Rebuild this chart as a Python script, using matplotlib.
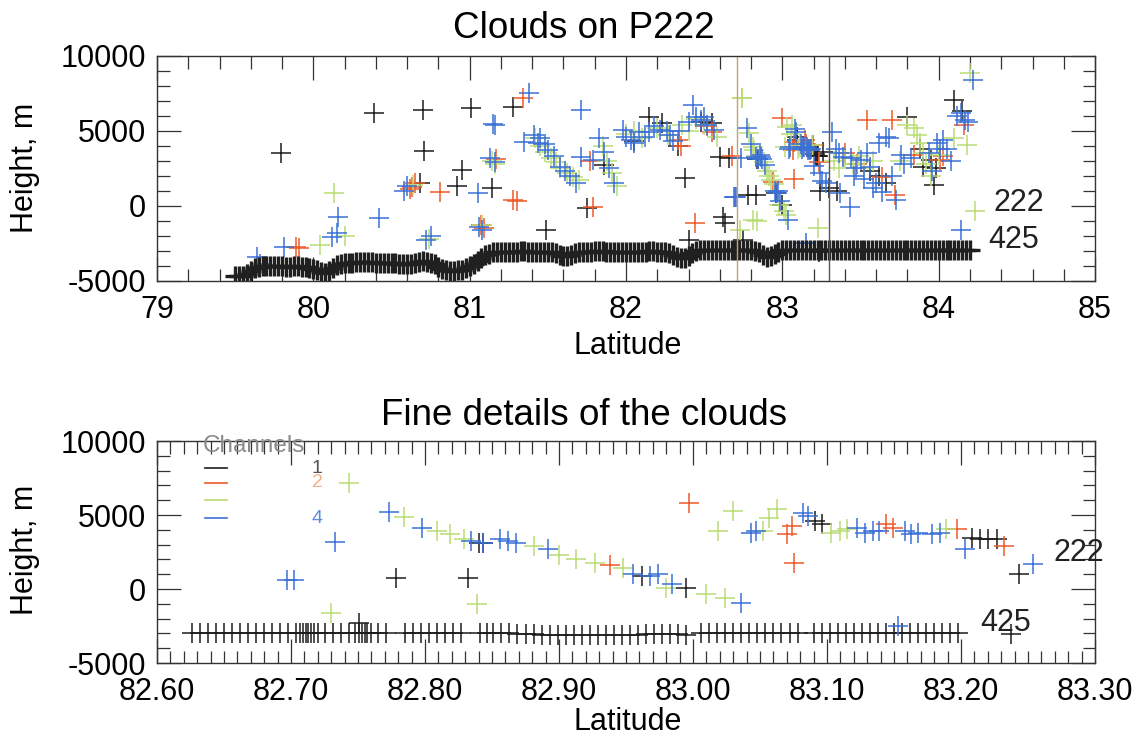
import matplotlib
matplotlib.use("Agg")
import matplotlib.pyplot as plt
from matplotlib.ticker import MultipleLocator, FormatStrFormatter

plt.rcParams['font.family'] = ['Liberation Sans', 'DejaVu Sans']
plt.rcParams['axes.unicode_minus'] = False

# ---- colours of the four channels
c1 = '#1c1c1c'
c2 = '#ee5a2a'
c3 = '#b9dc74'
c4 = '#3b70d6'

# ---- channel 1, wide track (latitude, height in m)
lat1 = [79.79, 80.39, 80.70, 81.01, 80.71, 80.95, 80.92, 81.14, 80.68, 81.28,
        81.75, 81.49, 82.15, 82.38, 82.40, 82.60, 82.66, 82.62, 82.63, 82.33,
        83.26, 83.30, 83.35, 83.80, 84.10, 83.95, 83.97, 83.62, 83.66, 82.48,
        81.86, 83.88, 83.90, 82.23, 82.05, 83.98, 83.56, 84.15, 82.55]
h1 = [3510, 6180, 6400, 6510, 3690, 2400, 1330, 1180, 1550, 6620,
      -150, -1600, 5960, 1850, -2270, 3290, 3180, -710, -1150, 4000,
      3600, 1200, 1000, 5960, 7070, 3070, 1400, 2000, 1500, 5600,
      2700, 3800, 2600, 5500, 4300, 2500, 2300, 6300, 5500]

lat2 = [79.89, 79.91, 80.63, 80.65, 80.62, 80.81, 81.17, 81.07, 81.09, 81.34,
        81.28, 81.30, 81.79, 81.77, 82.33, 82.35, 82.52, 82.55, 82.44, 82.68,
        83.54, 83.70, 83.64, 83.72, 84.01, 84.03, 83.48, 83.84, 83.40, 84.16]
h2 = [-2710, -2800, 1290, 1500, 1100, 960, 3100, -1300, -1500, 7200,
      400, 300, -100, 3000, 4400, 4000, 5300, 4900, -1150, 3300,
      5740, 5740, 1900, 700, 3070, 3300, 2800, 3400, 3500, 5400]

lat3 = [80.13, 80.04, 80.20, 80.64, 80.74, 81.08, 81.14, 81.16, 81.42, 81.45,
        81.48, 81.52, 81.55, 81.58, 81.62, 81.66, 81.70, 81.85, 81.88, 81.91,
        81.94, 82.00, 82.10, 82.20, 82.27, 82.40, 82.45, 82.50, 82.58, 82.74,
        82.81, 83.23, 83.36, 83.40, 83.45, 83.58, 83.84, 83.86, 83.88, 83.90,
        83.92, 84.20, 84.18, 84.23, 83.75, 83.52, 83.33, 83.49, 83.80, 83.95,
        84.00, 84.10, 82.36, 82.05]
h3 = [840, -2600, -2000, 1400, -2200, -1300, 3000, 2800, 4500, 4000,
      3600, 3200, 2900, 2500, 2200, 1900, 1700, 4000, 3000, 2200,
      1300, 4800, 4500, 5200, 4700, 5000, 5800, 5400, 4600, 7180,
      -930, -1490, 2500, 3200, 2800, 3000, 5200, 4700, 4200, 3500,
      2800, 8850, 4070, -330, 3000, 2500, 3000, 3300, 5400, 2000,
      3400, 4500, 5400, 5000]

lat4 = [79.64, 79.66, 79.81, 80.16, 80.12, 80.15, 80.42, 80.58, 80.60, 80.72,
        80.75, 81.05, 81.15, 81.13, 81.16, 81.06, 81.08, 81.38, 81.71, 81.16,
        81.41, 81.35, 81.44, 81.50, 81.54, 81.58, 81.61, 81.64, 81.68, 81.71,
        81.79, 81.83, 81.86, 81.89, 81.92, 81.98, 82.05, 82.08, 82.12, 82.18,
        82.22, 82.26, 82.30, 82.43, 82.45, 82.48, 82.52, 82.56, 82.69, 83.32,
        83.24, 83.28, 83.37, 83.43, 83.39, 83.44, 83.50, 83.56, 83.60, 83.64,
        83.68, 83.73, 83.70, 83.94, 83.96, 84.03, 84.05, 84.08, 84.14, 84.17,
        84.22, 84.14, 83.54, 83.46, 83.34, 83.36, 83.47, 83.52, 83.58, 83.62,
        83.66, 83.76, 83.78, 83.82, 83.99, 84.01, 84.12, 84.19, 82.00, 82.03,
        82.15, 82.28, 82.34, 82.40, 82.50, 81.45, 81.48]
h4 = [-3380, -3900, -2710, -710, -2050, -1800, -820, 1000, 1300, -2270,
      -2000, 890, 5470, 3200, 2900, -1380, -1600, 7510, 6400, 5400,
      4740, 4290, 4200, 3700, 3300, 2620, 2300, 2000, 1510, 3290,
      3070, 4530, 3600, 2500, 1500, 5070, 4180, 4900, 4600, 5300,
      5070, 5000, 4300, 6740, 5960, 5700, 5400, 5070, 620, 4960,
      2180, 1500, 850, -50, 3290, 3200, 3070, 2620, 1500, 900,
      4510, 400, 2000, 3500, 2300, 4400, 3800, 3000, 6180, 5700,
      8400, -1600, 3500, 2000, 3800, 3500, 2500, 1800, 1200, 4200,
      4600, 3400, 2800, 3200, 4200, 3800, 6000, 5600, 4600, 4400,
      4900, 4700, 5000, 5600, 5900, 4500, 4100]

# ---- channel 1 low layer (the "425" band)
band_lat = [
    79.500, 79.525, 79.550, 79.575, 79.600, 79.625, 79.650, 79.675, 79.700, 79.725,
    79.750, 79.775, 79.800, 79.825, 79.850, 79.875, 79.900, 79.925, 79.950, 79.975,
    80.000, 80.025, 80.050, 80.075, 80.100, 80.125, 80.150, 80.175, 80.200, 80.225,
    80.250, 80.275, 80.300, 80.325, 80.350, 80.375, 80.400, 80.425, 80.450, 80.475,
    80.500, 80.525, 80.550, 80.575, 80.600, 80.625, 80.650, 80.675, 80.700, 80.725,
    80.750, 80.775, 80.800, 80.825, 80.850, 80.875, 80.900, 80.925, 80.950, 80.975,
    81.000, 81.025, 81.050, 81.075, 81.100, 81.125, 81.150, 81.175, 81.200, 81.225,
    81.250, 81.275, 81.300, 81.325, 81.350, 81.375, 81.400, 81.425, 81.450, 81.475,
    81.500, 81.525, 81.550, 81.575, 81.600, 81.625, 81.650, 81.675, 81.700, 81.725,
    81.750, 81.775, 81.800, 81.825, 81.850, 81.875, 81.900, 81.925, 81.950, 81.975,
    82.000, 82.025, 82.050, 82.075, 82.100, 82.125, 82.150, 82.175, 82.200, 82.225,
    82.250, 82.275, 82.300, 82.325, 82.350, 82.375, 82.400, 82.425, 82.450, 82.475,
    82.500, 82.525, 82.550, 82.575, 82.600, 82.625, 82.650, 82.675, 82.700, 82.725,
    82.750, 82.775, 82.800, 82.825, 82.850, 82.875, 82.900, 82.925, 82.950, 82.975,
    83.000, 83.025, 83.050, 83.075, 83.100, 83.125, 83.150, 83.175, 83.200, 83.225,
    83.250, 83.275, 83.300, 83.325, 83.350, 83.375, 83.400, 83.425, 83.450, 83.475,
    83.500, 83.525, 83.550, 83.575, 83.600, 83.625, 83.650, 83.675, 83.700, 83.725,
    83.750, 83.775, 83.800, 83.825, 83.850, 83.875, 83.900, 83.925, 83.950, 83.975,
    84.000, 84.025, 84.050, 84.075, 84.100, 84.125, 84.150, 84.175, 84.200]
band_h = [
    -4700, -4700, -4650, -4550, -4350, -4150, -4050, -4000, -4000, -4000,
    -4000, -4000, -4000, -4050, -4050, -4000, -4000, -4050, -4100, -4150,
    -4200, -4300, -4400, -4450, -4350, -4150, -3950, -3850, -3800, -3800,
    -3800, -3750, -3750, -3750, -3750, -3750, -3800, -3800, -3800, -3800,
    -3800, -3800, -3850, -3900, -3900, -3850, -3800, -3750, -3700, -3750,
    -3800, -3900, -4050, -4200, -4300, -4350, -4350, -4300, -4250, -4150,
    -4000, -3850, -3650, -3450, -3300, -3200, -3100, -3050, -3050, -3050,
    -3050, -3050, -3050, -3000, -3000, -3050, -3050, -3050, -3050, -3050,
    -3050, -3100, -3150, -3250, -3350, -3350, -3250, -3150, -3050, -3050,
    -3050, -3050, -3000, -3000, -3000, -3050, -3050, -3050, -3050, -3050,
    -3050, -3050, -3100, -3100, -3050, -3050, -3000, -3000, -3050, -3050,
    -3100, -3150, -3250, -3400, -3500, -3500, -3350, -3150, -3000, -2950,
    -2950, -2950, -2950, -2950, -2950, -2950, -2950, -2950, -2950, -2950,
    -2950, -2950, -2950, -3000, -3100, -3300, -3400, -3350, -3200, -3050,
    -2950, -2950, -2950, -2950, -2950, -2950, -2950, -2950, -2950, -2950,
    -2950, -2950, -2950, -2950, -2950, -2950, -2950, -2950, -2950, -2950,
    -2950, -2950, -2950, -2950, -2950, -2950, -2950, -2950, -2950, -2950,
    -2950, -2950, -2950, -2950, -2950, -2950, -2950, -2950, -2950, -2950,
    -2950, -2950, -2950, -2950, -2950, -2950, -2950, -2950, -2950]

# ---- fine section 82.6 - 83.3
flat1 = [82.778, 82.832, 82.840, 82.843, 82.751, 82.962, 82.995, 83.091, 83.096,
         83.208, 83.214, 83.220, 83.227, 83.243, 83.237]
fh1 = [760, 760, 3130, 3130, -2280, 880, 50, 4600, 4420,
       3470, 3360, 3360, 3360, 990, -3040]

flat2 = [82.938, 82.997, 83.070, 83.074, 83.075, 83.144, 83.149, 83.197, 83.232]
fh2 = [1620, 5830, 3700, 4260, 1780, 4370, 4150, 4040, 2900]

flat3 = [82.743, 82.730, 82.839, 82.784, 82.809, 82.819, 82.829, 82.881, 82.900,
         82.913, 82.927, 82.948, 82.980, 83.010, 83.024, 83.019, 83.030, 83.057,
         83.063, 83.052, 83.103, 83.110, 83.115, 83.189]
fh3 = [7190, -1600, -1000, 4870, 3920, 3720, 3360, 2900, 2300,
       2000, 1740, 1440, 90, -320, -590, 3920, 5270, 4820,
       5390, 3920, 3800, 3920, 4040, 4040]

flat4 = [82.697, 82.702, 82.733, 82.773, 82.798, 82.834, 82.843, 82.856, 82.862,
         82.868, 82.892, 82.955, 82.968, 82.974, 82.984, 83.036, 83.043, 83.047,
         83.082, 83.086, 83.122, 83.128, 83.134, 83.139, 83.158, 83.163, 83.168,
         83.178, 83.184, 83.203, 83.254, 83.153]
fh4 = [610, 610, 3180, 5200, 4150, 3240, 3130, 3380, 3240,
       3130, 2700, 990, 880, 990, 360, -920, 3810, 3920,
       5160, 4930, 4150, 3800, 3920, 3920, 3920, 3700, 3800,
       3700, 3800, 2680, 1670, -2500]

# channel 1 low layer in the fine section
line_lat = ([82.626, 82.632, 82.638, 82.644, 82.650, 82.656, 82.662, 82.668,
             82.674, 82.680, 82.686, 82.692, 82.698, 82.704]
            + [82.707, 82.709, 82.711, 82.713, 82.715, 82.717, 82.720]
            + [82.725, 82.731, 82.737, 82.743, 82.748, 82.751, 82.753, 82.755,
               82.757, 82.760, 82.765, 82.771]
            + [82.785, 82.791, 82.797, 82.803, 82.809, 82.815, 82.821, 82.827,
               82.841, 82.846, 82.851]
            + [82.857, 82.863, 82.869, 82.875, 82.881, 82.887, 82.893, 82.899,
               82.905, 82.911, 82.917, 82.923]
            + [82.929, 82.935, 82.941, 82.947, 82.953, 82.959, 82.965, 82.971,
               82.977, 82.983, 82.989, 82.995]
            + [83.006, 83.012, 83.018, 83.024, 83.030, 83.036, 83.042, 83.048,
               83.054, 83.060, 83.066, 83.072, 83.078]
            + [83.090, 83.096, 83.102, 83.108, 83.114, 83.120, 83.126, 83.132,
               83.138, 83.144, 83.150, 83.156, 83.162, 83.168, 83.174, 83.180,
               83.186, 83.192, 83.198])
line_h = ([-2950, -2950, -2950, -2950, -2950, -2950, -2950, -2950,
           -2950, -2950, -2950, -2950, -2950, -2950]
          + [-2950, -2950, -2950, -2950, -2950, -2950, -2950]
          + [-2950, -2950, -2950, -2950, -2950, -2950, -2950, -2950,
             -2950, -2950, -2950, -2950]
          + [-2950, -2950, -2950, -2950, -2950, -2950, -2960, -2960,
             -2970, -2970, -2980]
          + [-3000, -3000, -3020, -3040, -3060, -3080, -3080, -3100,
             -3100, -3100, -3100, -3100]
          + [-3100, -3100, -3100, -3100, -3100, -3080, -3060, -3050,
             -3040, -3030, -3020, -3100]
          + [-3000, -3000, -2990, -2980, -2970, -2960, -2950, -2950,
             -2950, -2950, -2950, -2950, -2950]
          + [-2950, -2950, -2950, -2950, -2950, -2950, -2950, -2950,
             -2950, -2950, -2950, -2950, -2950, -2950, -2950, -2950,
             -2950, -2950, -2950])

fig = plt.figure(figsize=(11.47, 7.39), dpi=100)
ax1 = fig.add_axes([0.1369, 0.6198, 0.8178, 0.3045])
ax2 = fig.add_axes([0.1369, 0.1028, 0.8178, 0.3004])

mk = dict(ls='none', marker='+', ms=14, mew=1.1)

# wide track
ax1.plot(lat1 + flat1, h1 + fh1, color=c1, **mk)
ax1.plot(lat2 + flat2, h2 + fh2, color=c2, **mk)
ax1.plot(lat3 + flat3, h3 + fh3, color=c3, **mk)
ax1.plot(lat4 + flat4, h4 + fh4, color=c4, **mk)
ax1.plot(band_lat, band_h, ls='none', marker='+', ms=15, mew=2.4, color='#202020')
ax1.axvline(82.71, color='#c2a468', lw=1.0)
ax1.axvline(83.30, color='#555555', lw=1.0)
ax1.text(84.35, 200, '222', fontsize=22, va='center', ha='left', color='#222222')
ax1.text(84.32, -2270, '425', fontsize=22, va='center', ha='left', color='#222222')

# fine section
ax2.plot(line_lat, line_h, color=c1, **mk)
ax2.plot(flat1, fh1, color=c1, **mk)
ax2.plot(flat2, fh2, color=c2, **mk)
ax2.plot(flat3, fh3, color=c3, **mk)
ax2.plot(flat4, fh4, color=c4, **mk)
ax2.text(83.269, 2430, '222', fontsize=22, va='center', ha='left', color='#222222',
         clip_on=False)
ax2.text(83.214, -2300, '425', fontsize=22, va='center', ha='left', color='#222222')

# channel key
ax2.text(0.049, 0.978, 'Channels', transform=ax2.transAxes, fontsize=17.5,
         color='#8a8a8a', va='center', ha='left')
key_y = [0.878, 0.811, 0.734, 0.653]
key_c = [c1, c2, c3, c4]
key_t = ['1', '2', '', '4']
key_tc = ['#555555', '#f2b08a', '#c9e39a', '#5a8ad8']
for yy, cc, tt, tc in zip(key_y, key_c, key_t, key_tc):
    ax2.plot([0.051, 0.075], [yy, yy], color=cc, lw=1.2, transform=ax2.transAxes)
    ax2.text(0.171, yy, tt, transform=ax2.transAxes, fontsize=14, color=tc,
             va='center', ha='center')

for ax in (ax1, ax2):
    ax.set_ylim(-5000, 10000)
    ax.yaxis.set_major_locator(MultipleLocator(5000))
    ax.yaxis.set_minor_locator(MultipleLocator(1000))
    ax.tick_params(which='both', direction='in', top=True, right=True,
                   labelsize=22, color='#333333', width=0.9)
    ax.tick_params(which='major', length=17)
    ax.tick_params(which='minor', length=9)
    ax.tick_params(axis='y', pad=8)
    ax.tick_params(axis='x', pad=10)
    for s in ax.spines.values():
        s.set_linewidth(1.0)
        s.set_color('#333333')

ax1.set_xlim(79, 85)
ax1.xaxis.set_major_locator(MultipleLocator(1))
ax1.xaxis.set_minor_locator(MultipleLocator(0.2))

ax2.set_xlim(82.6, 83.3)
ax2.xaxis.set_major_locator(MultipleLocator(0.1))
ax2.xaxis.set_minor_locator(MultipleLocator(0.01))
ax2.xaxis.set_major_formatter(FormatStrFormatter('%.2f'))

fig.text(0.509, 0.962, 'Clouds on P222', fontsize=26.5, ha='center', va='center')
fig.text(0.509, 0.438, 'Fine details of the clouds', fontsize=26.5, ha='center',
         va='center')
fig.text(0.5475, 0.532, 'Latitude', fontsize=22, ha='center', va='center')
fig.text(0.5475, 0.023, 'Latitude', fontsize=22, ha='center', va='center')
fig.text(0.022, 0.773, 'Height, m', fontsize=22, rotation=90, ha='center', va='center')
fig.text(0.022, 0.256, 'Height, m', fontsize=22, rotation=90, ha='center', va='center')

fig.savefig('out.png', dpi=100)
